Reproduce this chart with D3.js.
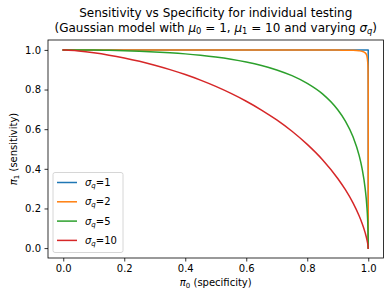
<!DOCTYPE html>
<html>
<head>
<meta charset="utf-8">
<script src="https://cdn.jsdelivr.net/npm/d3@7"></script>
<style>
  body { margin: 0; background: #fff; }
  text { font-family: "DejaVu Sans", sans-serif; fill: #000; }
</style>
</head>
<body>
<div id="chart"></div>
<script>
// specificity grid (x) and sensitivity (y)
var specificity = [0, 0.01, 0.05, 0.1, 0.15, 0.2, 0.25, 0.3, 0.35, 0.4, 0.45, 0.5, 0.55, 0.6, 0.65, 0.7, 0.75, 0.8, 0.85, 0.9, 0.925, 0.95, 0.97, 0.98, 0.99, 0.995, 0.999, 0.9999, 1];
var sens1  = [1, 1, 1, 1, 1, 1, 1, 1, 1, 1, 1, 1, 1, 1, 1, 1, 1, 1, 1, 1, 1, 1, 1, 1, 1, 1, 1, 1, 0];
var sens2  = [1, 1, 1, 1, 1, 1, 1, 1, 1, 1, 1, 1, 1, 1, 1, 1, 1, 0.9999, 0.9998, 0.9994, 0.9985, 0.9978, 0.9956, 0.9928, 0.985, 0.973, 0.921, 0.783, 0];
var sens5  = [1, 1, 0.9997, 0.999, 0.9977, 0.9959, 0.9933, 0.9899, 0.9856, 0.98, 0.9729, 0.9641, 0.953, 0.939, 0.9215, 0.899, 0.87, 0.831, 0.778, 0.698, 0.641, 0.562, 0.468, 0.4, 0.299, 0.219, 0.098, 0.027, 0];
var sens10 = [1, 0.9994, 0.9945, 0.9854, 0.9736, 0.9592, 0.9423, 0.9228, 0.9006, 0.8756, 0.8475, 0.8159, 0.7806, 0.7411, 0.6967, 0.6465, 0.5894, 0.5232, 0.4459, 0.3513, 0.2946, 0.2282, 0.1633, 0.1243, 0.0769, 0.0469, 0.0143, 0.0024, 0];
var sigmas = ["1", "2", "5", "10"];
var colors = ["#1f77b4", "#ff7f0e", "#2ca02c", "#d62728"];
var xTicks = [0, 0.2, 0.4, 0.6, 0.8, 1.0];
var yTicks = [0, 0.2, 0.4, 0.6, 0.8, 1.0];

var width = 390, height = 300;
var margin = {top: 40, right: 6.5, bottom: 42, left: 48};
var w = width - margin.left - margin.right;
var h = height - margin.top - margin.bottom;

var svg = d3.select("#chart").append("svg")
    .attr("width", width)
    .attr("height", height);

var x = d3.scaleLinear().domain([-0.05, 1.05]).range([margin.left, margin.left + w]);
var y = d3.scaleLinear().domain([-0.05, 1.05]).range([margin.top + h, margin.top]);

var series = [sens1, sens2, sens5, sens10];

var line = d3.line()
  .x(function(d, i) { return x(specificity[i]); })
  .y(function(d) { return y(d); })
  .curve(d3.curveMonotoneX);

svg.append("g").selectAll("path")
  .data(series)
  .enter()
  .append("path")
  .attr("d", line)
  .attr("fill", "none")
  .attr("stroke", function(d, i) { return colors[i]; })
  .attr("stroke-width", 1.5)
  .attr("stroke-linejoin", "round")
  .attr("stroke-linecap", "square");

// axes
var xAxis = svg.append("g")
  .attr("transform", "translate(0," + (margin.top + h) + ")")
  .call(d3.axisBottom(x).tickValues(xTicks).tickFormat(d3.format(".1f")).tickSizeInner(3.5).tickSizeOuter(0).tickPadding(3.5));
var yAxis = svg.append("g")
  .attr("transform", "translate(" + margin.left + ",0)")
  .call(d3.axisLeft(y).tickValues(yTicks).tickFormat(d3.format(".1f")).tickSizeInner(3.5).tickSizeOuter(0).tickPadding(3.5));
[xAxis, yAxis].forEach(function(a) {
  a.select(".domain").remove();
  a.selectAll("line").attr("stroke", "#000").attr("stroke-width", 0.8);
  a.selectAll("text").attr("font-size", 10).attr("font-family", "DejaVu Sans").attr("fill", "#000");
});

svg.append("rect")
  .attr("x", margin.left).attr("y", margin.top)
  .attr("width", w).attr("height", h)
  .attr("fill", "none").attr("stroke", "#000").attr("stroke-width", 0.8);

// symbol + subscript, then the rest of the text back on the baseline
function mathPart(t, sym, sub, subItalic, rest, subSize) {
  t.append("tspan").attr("font-style", "italic").text(sym);
  t.append("tspan").attr("font-size", subSize).attr("dy", 2).attr("font-style", subItalic ? "italic" : "normal").text(sub);
  t.append("tspan").attr("dy", -2).text(rest);
}

// title
var cx = margin.left + w / 2;
svg.append("text").attr("x", cx).attr("y", 17).attr("text-anchor", "middle").attr("font-size", 12)
  .text("Sensitivity vs Specificity for individual testing");

var t2 = svg.append("text").attr("x", cx).attr("y", 31.5).attr("text-anchor", "middle").attr("font-size", 12);
t2.append("tspan").text("(Gaussian model with ");
mathPart(t2, "\u03bc", "0", false, " = 1, ", 8.4);
mathPart(t2, "\u03bc", "1", false, " = 10 and varying ", 8.4);
mathPart(t2, "\u03c3", "q", true, ")", 8.4);

// axis labels
var xl = svg.append("text").attr("x", cx).attr("y", 286).attr("text-anchor", "middle").attr("font-size", 10);
mathPart(xl, "\u03c0", "0", false, " (specificity)", 7);

var yl = svg.append("text")
  .attr("transform", "translate(17," + (margin.top + h / 2) + ") rotate(-90)")
  .attr("text-anchor", "middle").attr("font-size", 10);
mathPart(yl, "\u03c0", "1", false, " (sensitivity)", 7);

// legend
var lg = svg.append("g").attr("transform", "translate(53,172.5)");
lg.append("rect")
  .attr("width", 70).attr("height", 80)
  .attr("rx", 2).attr("ry", 2)
  .attr("fill", "#fff").attr("fill-opacity", 0.8)
  .attr("stroke", "#cccccc").attr("stroke-width", 0.8);

var rows = lg.selectAll("g.row")
  .data(sigmas)
  .enter()
  .append("g")
  .attr("transform", function(d, i) { return "translate(0," + (10 + i * 19.3) + ")"; });
rows.append("line")
  .attr("x1", 4).attr("x2", 24)
  .attr("stroke", function(d, i) { return colors[i]; })
  .attr("stroke-width", 1.5);
rows.each(function(d) {
  var t = d3.select(this).append("text").attr("x", 32).attr("y", 3.5).attr("font-size", 10);
  mathPart(t, "\u03c3", "q", true, "=" + d, 7);
});
</script>
</body>
</html>
